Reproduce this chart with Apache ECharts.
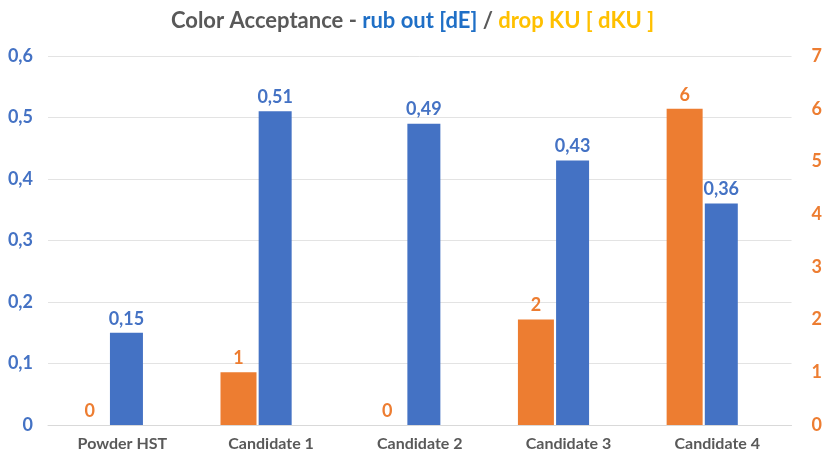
<!DOCTYPE html>
<html><head><meta charset="utf-8">
<script src="https://cdn.jsdelivr.net/npm/echarts@6/dist/echarts.min.js"></script>
<style>html,body{margin:0;padding:0;background:#fff}#c{width:825px;height:461px}</style>
</head><body><div id="c"></div>
<script>
const categories = ['Powder HST', 'Candidate 1', 'Candidate 2', 'Candidate 3', 'Candidate 4'];
const rubOut = [0.15, 0.51, 0.49, 0.43, 0.36];
const dropKU = [0, 1, 0, 2, 6];
const leftTicks = [0, 0.1, 0.2, 0.3, 0.4, 0.5, 0.6];
const rightTicks = [0, 1, 2, 3, 4, 5, 6, 7];

const BLUE = '#4472C4', ORANGE = '#ED7D31';
const FONT = 'Lato, "Open Sans", sans-serif';
const fmt = v => String(v).replace('.', ',');

const chart = echarts.init(document.getElementById('c'));
chart.setOption({
  animation: false,
  textStyle: { fontFamily: FONT },
  title: {
    left: 'center', top: 5,
    text: '{g|Color Acceptance - }{b|rub out [dE]}{g| / }{y|drop KU [ dKU ]}',
    textStyle: {
      rich: {
        g: { color: '#595959', fontSize: 22, fontWeight: 'bold', fontFamily: FONT },
        b: { color: '#1F6FC6', fontSize: 22, fontWeight: 'bold', fontFamily: FONT },
        y: { color: '#FFC000', fontSize: 22, fontWeight: 'bold', fontFamily: FONT }
      }
    }
  },
  grid: { left: 48, right: 32, top: 56, bottom: 36 },
  xAxis: {
    type: 'category', data: categories,
    axisLine: { show: true, lineStyle: { color: '#D9D9D9' } },
    axisTick: { show: false },
    axisLabel: { color: '#595959', fontSize: 16, fontWeight: 'bold', margin: 11, fontFamily: FONT }
  },
  yAxis: [
    {
      type: 'value', min: 0, max: 0.6, interval: 0.1,
      axisLine: { show: false }, axisTick: { show: false },
      splitLine: { lineStyle: { color: '#E3E3E3' } },
      axisLabel: { color: BLUE, fontSize: 18, fontWeight: 'bold', margin: 15, fontFamily: FONT,
        formatter: v => fmt(Math.round(v * 10) / 10) }
    },
    {
      type: 'value', min: 0, max: 7, interval: 1,
      axisLine: { show: false }, axisTick: { show: false },
      splitLine: { show: false },
      axisLabel: { color: ORANGE, fontSize: 18, fontWeight: 'bold', margin: 20, fontFamily: FONT }
    }
  ],
  series: [
    {
      name: 'drop KU', type: 'bar', yAxisIndex: 1, data: dropKU,
      barWidth: 36, barGap: '6%',
      itemStyle: { color: ORANGE },
      label: { show: true, position: 'top', color: ORANGE, fontSize: 18, fontWeight: 'bold', distance: 5, fontFamily: FONT }
    },
    {
      name: 'rub out', type: 'bar', yAxisIndex: 0, data: rubOut,
      barWidth: 33, barGap: '6%',
      itemStyle: { color: BLUE },
      label: { show: true, position: 'top', color: BLUE, fontSize: 18, fontWeight: 'bold', distance: 5, fontFamily: FONT,
        formatter: p => fmt(p.value) }
    },
    {
      name: 'spacer', type: 'bar', yAxisIndex: 0, data: categories.map(() => null),
      barWidth: 28, barGap: '6%', silent: true
    }
  ]
});
</script></body></html>
